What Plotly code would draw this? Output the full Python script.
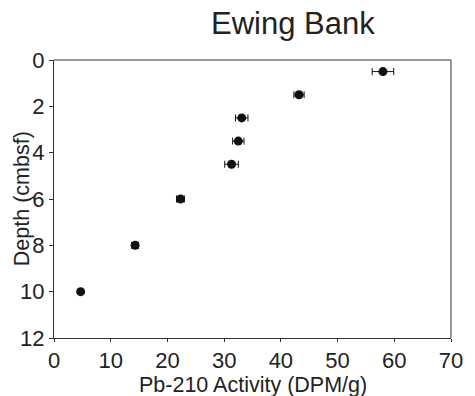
import plotly.graph_objects as go

depth = [0.5, 1.5, 2.5, 3.5, 4.5, 6, 8, 10]
activity = [58.0, 43.2, 33.1, 32.5, 31.3, 22.3, 14.3, 4.7]
err = [1.9, 0.9, 1.1, 1.0, 1.2, 0.7, 0.6, 0.3]
x_ticks = [0, 10, 20, 30, 40, 50, 60, 70]
y_ticks = [0, 2, 4, 6, 8, 10, 12]

FONT = "Liberation Sans, Arial, sans-serif"
TXT = "#222222"

fig = go.Figure()
fig.add_trace(go.Scatter(
    x=activity, y=depth, mode="markers",
    marker=dict(size=9, color="#111111"),
    error_x=dict(type="data", array=err, visible=True, color="#111111",
                 thickness=1, width=3.5),
    showlegend=False,
))

fig.update_layout(
    width=475, height=396,
    margin=dict(l=54, r=22, t=60, b=58),
    paper_bgcolor="white", plot_bgcolor="white",
    font=dict(family=FONT, size=22, color=TXT),
    xaxis=dict(range=[0, 70], tickvals=x_ticks, showgrid=False, zeroline=False,
               showline=True, linecolor="#333333", linewidth=1,
               ticks="outside", ticklen=3, tickcolor="#333333",
               tickfont=dict(size=22, color=TXT)),
    yaxis=dict(range=[12, 0], tickvals=y_ticks, showgrid=False, zeroline=False,
               showline=True, linecolor="#333333", linewidth=1,
               ticks="outside", ticklen=4, tickcolor="#333333",
               tickfont=dict(size=22, color=TXT)),
    shapes=[
        dict(type="line", xref="paper", yref="paper", x0=0, x1=1, y0=1, y1=1,
             line=dict(color="#999999", width=2)),
        dict(type="line", xref="paper", yref="paper", x0=1, x1=1, y0=0, y1=1,
             line=dict(color="#999999", width=2)),
    ],
    annotations=[
        dict(text="Ewing Bank", xref="paper", yref="paper", x=0.603, y=1.133,
             xanchor="center", yanchor="middle", showarrow=False,
             font=dict(size=31, color=TXT, family=FONT)),
        dict(text="Depth (cmbsf)", xref="paper", yref="paper", x=-0.0802, y=0.5,
             xanchor="center", yanchor="middle", textangle=-90, showarrow=False,
             font=dict(size=21.5, color=TXT, family=FONT)),
        dict(text="Pb-210 Activity (DPM/g)", xref="paper", yref="paper", x=0.5, y=-0.17,
             xanchor="center", yanchor="middle", showarrow=False,
             font=dict(size=21.5, color=TXT, family=FONT)),
    ],
)

fig.write_html("out.html")
